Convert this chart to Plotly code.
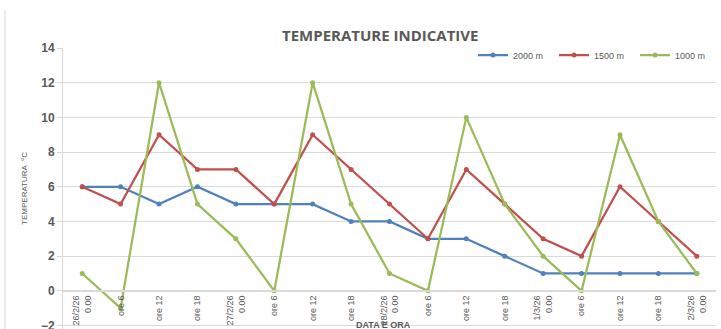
import plotly.graph_objects as go

# Time slots (every 6 hours)
categories = [
    "26/2/26<br>0.00", "ore 6", "ore 12", "ore 18",
    "27/2/26<br>0.00", "ore 6", "ore 12", "ore 18",
    "28/2/26<br>0.00", "ore 6", "ore 12", "ore 18",
    "1/3/26<br>0.00", "ore 6", "ore 12", "ore 18",
    "2/3/26<br>0.00",
]
x_idx = list(range(len(categories)))

temp_2000 = [6, 6, 5, 6, 5, 5, 5, 4, 4, 3, 3, 2, 1, 1, 1, 1, 1]
temp_1500 = [6, 5, 9, 7, 7, 5, 9, 7, 5, 3, 7, 5, 3, 2, 6, 4, 2]
temp_1000 = [1, -1, 12, 5, 3, 0, 12, 5, 1, 0, 10, 5, 2, 0, 9, 4, 1]

y_ticks = [-2, 0, 2, 4, 6, 8, 10, 12, 14]

series = [
    ("2000 m", temp_2000, "#4f81bd"),
    ("1500 m", temp_1500, "#c0504d"),
    ("1000 m", temp_1000, "#9bbb59"),
]

W, H = 721, 329
L, R, T, B = 63, 5, 48, 0
Y_MIN, Y_MAX = -2.2, 14

fig = go.Figure()
for name, vals, col in series:
    fig.add_trace(go.Scatter(
        x=x_idx, y=vals, name=name, mode="lines+markers",
        line=dict(color=col, width=2.25),
        marker=dict(color=col, size=5),
    ))

grey = "#595959"
fig.update_layout(
    width=W, height=H,
    margin=dict(l=L, r=R, t=T, b=B, autoexpand=False),
    paper_bgcolor="white", plot_bgcolor="white",
    font=dict(family="Liberation Sans, Arial, sans-serif", color=grey),
    showlegend=True,
    legend=dict(
        orientation="h", x=1, xanchor="right", y=0.975, yanchor="middle",
        font=dict(size=9, color=grey), bgcolor="rgba(0,0,0,0)",
        entrywidth=36, tracegroupgap=0,
    ),
    xaxis=dict(
        range=[-0.5, len(categories) - 0.5],
        tickmode="array", tickvals=x_idx, ticktext=categories,
        tickangle=-90, tickfont=dict(size=9, color=grey),
        ticklabeloverflow="allow", automargin=False,
        showgrid=False, zeroline=False,
        showline=True, linecolor="#d9d9d9", linewidth=2,
        anchor="free", position=(0 - Y_MIN) / (Y_MAX - Y_MIN),
    ),
    yaxis=dict(
        range=[Y_MIN, Y_MAX], tickmode="array", tickvals=y_ticks,
        showgrid=True, gridcolor="#d9d9d9", gridwidth=1,
        zeroline=False,
        showline=True, linecolor="#d9d9d9", linewidth=1,
        ticks="outside", ticklen=5, tickcolor="#d9d9d9",
        ticklabeloverflow="allow", automargin=False,
        tickfont=dict(size=12, color=grey, weight="bold",
                      family="Liberation Sans, Arial, sans-serif"),
        title=dict(text="TEMPERATURA  °C", font=dict(size=8, color=grey), standoff=12),
    ),
)

# Title
fig.add_annotation(
    text="<b>TEMPERATURE INDICATIVE</b>", xref="paper", yref="paper",
    x=(380 - L) / (W - L - R), y=1 + (T - 35) / (H - T - B),
    xanchor="center", yanchor="middle", showarrow=False,
    font=dict(size=15, color=grey, family="Open Sans, Liberation Sans, sans-serif"),
)

# X axis title
fig.add_annotation(
    text="<b>DATA E ORA</b>", xref="paper", yref="paper",
    x=(383 - L) / (W - L - R), y=(H - B - 325) / (H - T - B),
    xanchor="center", yanchor="middle", showarrow=False,
    font=dict(size=9, color=grey),
)

# Left border of the chart area
fig.add_shape(
    type="line", xref="paper", yref="paper",
    x0=(5 - L) / (W - L - R), x1=(5 - L) / (W - L - R),
    y0=1 + (T - 10) / (H - T - B), y1=-0.1,
    line=dict(color="#d9d9d9", width=1),
)

fig.write_html("out.html")
